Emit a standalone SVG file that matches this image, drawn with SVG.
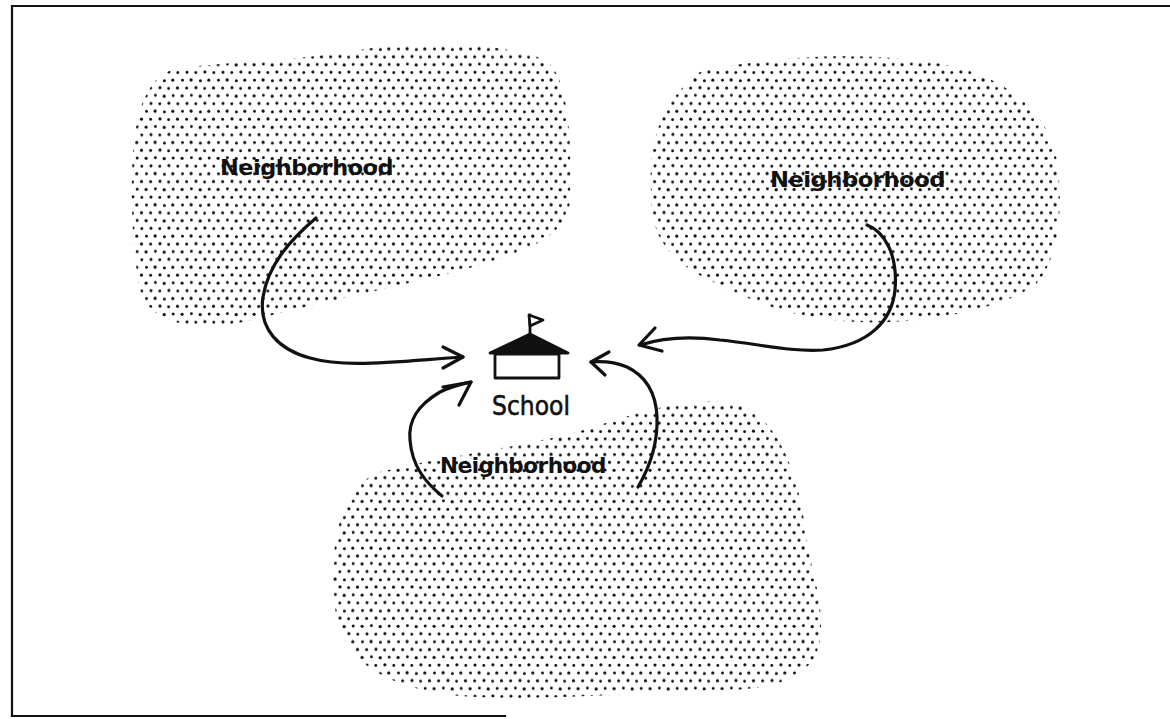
<svg xmlns="http://www.w3.org/2000/svg" width="1170" height="719" viewBox="0 0 1170 719">
  <style>
    .frame { stroke: #111; stroke-width: 2.2; fill: none; stroke-linecap: square; }
    .label { font-family: "DejaVu Sans", "Liberation Sans", sans-serif; fill: #111; }
    .hood { font-size: 22px; font-weight: bold; letter-spacing: -0.5px; }
    .school { font-size: 26px; stroke: #111; stroke-width: 0.6; }
    .wire { stroke: #111; stroke-width: 3.2; fill: none; stroke-linecap: round; stroke-linejoin: round; }
    .ink { stroke: #111; stroke-width: 2.8; stroke-linejoin: round; stroke-linecap: round; }
  </style>
  <defs>
    <!-- irregular stipple tile -->
    <pattern id="stipple" width="36" height="31.2" patternUnits="userSpaceOnUse">
      <g fill="#111">
        <circle cx="2.1" cy="2.3" r="1.6"/>
        <circle cx="11.4" cy="1.7" r="1.45"/>
        <circle cx="20.2" cy="2.6" r="1.65"/>
        <circle cx="29.2" cy="2.0" r="1.5"/>
        <circle cx="7.0" cy="9.8" r="1.55"/>
        <circle cx="15.8" cy="10.3" r="1.45"/>
        <circle cx="24.9" cy="9.6" r="1.6"/>
        <circle cx="33.8" cy="10.2" r="1.45"/>
        <circle cx="2.5" cy="17.9" r="1.45"/>
        <circle cx="11.1" cy="17.5" r="1.65"/>
        <circle cx="20.4" cy="18.2" r="1.5"/>
        <circle cx="28.8" cy="17.7" r="1.55"/>
        <circle cx="6.6" cy="25.6" r="1.5"/>
        <circle cx="16.0" cy="25.3" r="1.6"/>
        <circle cx="24.6" cy="26.0" r="1.45"/>
        <circle cx="33.5" cy="25.5" r="1.55"/>
      </g>
    </pattern>
  </defs>

  <rect width="1170" height="719" fill="#fff"/>

  <!-- page frame -->
  <path class="frame" d="M12,716 L12,6 L1170,6"/>
  <path class="frame" d="M12,716 L505,716"/>

  <!-- neighborhood areas -->
  <g id="hood-northwest">
    <path fill="url(#stipple)" d="M180,68 C230,62 300,60 360,50 C420,40 500,42 545,60 C570,75 572,150 570,200 C568,235 530,250 480,265 C420,282 330,300 260,318 C200,335 150,325 140,290 C130,240 128,150 140,110 C150,80 165,70 180,68 Z"/>
    <text class="label hood" x="220" y="175" textLength="173" lengthAdjust="spacingAndGlyphs">Neighborhood</text>
  </g>

  <g id="hood-northeast">
    <path fill="url(#stipple)" d="M700,72 C760,58 850,50 930,62 C990,70 1040,100 1055,150 C1065,200 1060,260 1035,285 C1000,310 920,325 860,322 C800,320 760,305 720,285 C680,268 655,245 652,210 C648,160 650,110 700,72 Z"/>
    <text class="label hood" x="770" y="187" textLength="175" lengthAdjust="spacingAndGlyphs">Neighborhood</text>
  </g>

  <g id="hood-south">
    <path fill="url(#stipple)" d="M380,472 C450,455 540,445 600,425 C650,408 700,395 740,405 C780,420 800,480 805,530 C810,570 825,600 820,640 C815,675 780,690 720,690 C640,692 540,702 460,696 C400,690 355,670 340,630 C328,590 332,540 345,505 C352,488 365,478 380,472 Z"/>
    <text class="label hood" x="440" y="473" textLength="166" lengthAdjust="spacingAndGlyphs">Neighborhood</text>
  </g>

  <!-- schoolhouse -->
  <g id="school">
    <line class="ink" x1="530" y1="335" x2="530" y2="315"/>
    <path class="ink" fill="#fff" d="M529,315 L543,320 L530,326 Z"/>
    <path class="ink" fill="#111" d="M490,353 L530,334 L568,353 Z"/>
    <rect class="ink" x="495" y="354" width="64" height="24" fill="#fff"/>
    <text class="label school" x="492" y="415" textLength="78" lengthAdjust="spacingAndGlyphs">School</text>
  </g>

  <!-- arrows toward the school -->
  <g id="connectors">
    <path class="wire" d="M316,218 C290,240 268,265 263,297 C258,330 280,350 310,358 C345,368 390,362 463,357"/>
    <polyline class="wire" points="443,347 463,357 443,368"/>

    <path class="wire" d="M867,225 C885,232 898,255 895,290 C892,320 870,345 823,350 C790,352 760,344 720,340 C690,336 665,337 640,345"/>
    <polyline class="wire" points="655,328 639,345 662,351"/>

    <path class="wire" d="M638,487 C648,470 658,445 657,417 C656,395 648,377 627,367 C615,362 602,361 591,362"/>
    <polyline class="wire" points="609,352 591,362 605,375"/>

    <path class="wire" d="M442,496 C425,482 412,466 410,440 C408,420 418,405 440,392 C452,386 462,384 471,382"/>
    <polyline class="wire" points="443,387 471,382 459,405"/>
  </g>
</svg>
